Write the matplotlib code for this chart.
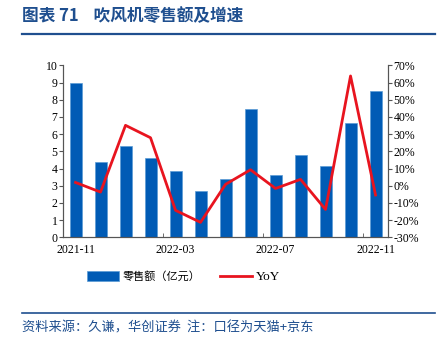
import matplotlib
matplotlib.use("Agg")
import matplotlib.pyplot as plt
from matplotlib.lines import Line2D
from matplotlib.patches import Patch
import numpy as np

# 数据
months = ["2021-11", "2021-12", "2022-01", "2022-02", "2022-03", "2022-04", "2022-05",
          "2022-06", "2022-07", "2022-08", "2022-09", "2022-10", "2022-11"]
sales = [8.95, 4.38, 5.29, 4.59, 3.86, 2.69, 3.41, 7.44, 3.62, 4.81, 4.13, 6.63, 8.50]
yoy = [1.9, -3.7, 35.1, 27.9, -14.3, -21.3, 0.8, 9.3, -1.6, 3.7, -13.8, 63.8, -5.4]

BLUE = "#005bb5"
RED = "#e8141f"
TITLE_BLUE = "#1f4f8f"
CJK = ["Noto Sans CJK SC", "DejaVu Sans"]
SERIF = "Liberation Serif"

fig = plt.figure(figsize=(4.45, 3.41), dpi=100)
ax = fig.add_axes([0.1416, 0.304, 0.7304, 0.5045])
ax2 = ax.twinx()

x = np.arange(len(months))
ax.bar(x, sales, width=0.48, color=BLUE, edgecolor="#5b9bd5", linewidth=0.5, zorder=2)
ax2.plot(x, yoy, color=RED, lw=2, zorder=3)

ax.set_xlim(-0.5, len(months) - 0.5)
ax.set_ylim(0, 10)
ax.set_yticks(range(0, 11))
ax2.set_ylim(-30, 70)
ax2.set_yticks(range(-30, 71, 10))
ax2.set_yticklabels([f"{v}%" for v in range(-30, 71, 10)])

# x轴：标签每4个月，刻度在类别边界
ax.set_xticks(x[::4])
ax.set_xticklabels(months[::4])
ax.set_xticks(np.arange(-0.5, len(months), 4), minor=True)
ax.tick_params(axis="x", which="major", length=0, pad=5)
ax.tick_params(axis="x", which="minor", length=3, direction="in", color="#555555")

for a in (ax, ax2):
    a.spines["top"].set_visible(False)
    for s in ("left", "right", "bottom"):
        a.spines[s].set_color("#555555")
        a.spines[s].set_linewidth(0.8)
    a.tick_params(axis="y", length=3, color="#555555", pad=1, labelsize=8.5)
    for lab in a.get_yticklabels() + a.get_xticklabels():
        lab.set_fontfamily(SERIF)
ax.tick_params(axis="x", labelsize=8.5)

handles = [Patch(facecolor=BLUE, edgecolor="#5b9bd5", lw=0.5), Line2D([], [], color=RED, lw=2)]
leg = ax.legend(handles, ["零售额（亿元）", "YoY"], loc="center", bbox_to_anchor=(0.37, -0.23),
                ncol=2, frameon=False, handlelength=2.9, handleheight=0.9, columnspacing=1.8,
                handletextpad=0.3, prop={"family": CJK + [SERIF], "size": 8})
leg.get_texts()[1].set_fontfamily(SERIF)
leg.get_texts()[1].set_fontsize(9.5)

# 标题与注释
fig.text(0.05, 0.952, "图表 71    吹风机零售额及增速", family=CJK, fontsize=12,
         fontweight="bold", color=TITLE_BLUE, va="center")
fig.add_artist(Line2D([0.049, 0.978], [0.900, 0.900], color=TITLE_BLUE, lw=1.6))
fig.add_artist(Line2D([0.049, 0.978], [0.083, 0.083], color=TITLE_BLUE, lw=1.2))
fig.text(0.05, 0.038, "资料来源：久谦，华创证券  注：口径为天猫+京东", family=CJK, fontsize=9.5,
         color=TITLE_BLUE, style="italic", va="center")

fig.savefig("out.png", dpi=100)
